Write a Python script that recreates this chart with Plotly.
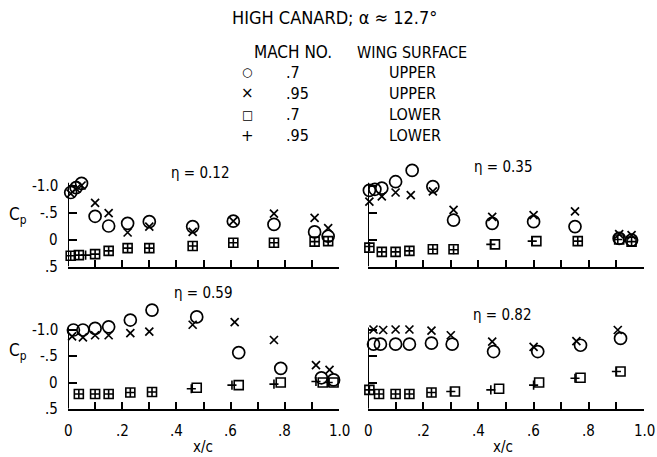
import plotly.graph_objects as go

W, H = 657, 457

# ---------------- data: x/c stations and pressure coefficients ----------------
# symbols: O = M 0.7 upper, X = M 0.95 upper, square = M 0.7 lower, + = M 0.95 lower

# eta = 0.12
e12_up70_x = [0.01, 0.03, 0.05, 0.10, 0.15, 0.22, 0.30, 0.46, 0.61, 0.76, 0.91, 0.96]
e12_up70_cp = [-0.87, -0.96, -1.04, -0.43, -0.25, -0.30, -0.33, -0.24, -0.34, -0.28, -0.14, -0.06]
e12_up95_x = [0.01, 0.03, 0.05, 0.10, 0.15, 0.22, 0.30, 0.46, 0.61, 0.76, 0.91, 0.96]
e12_up95_cp = [-0.85, -0.94, -1.00, -0.68, -0.49, -0.13, -0.24, -0.14, -0.34, -0.48, -0.40, -0.21]
e12_lo70_x = [0.01, 0.04, 0.10, 0.15, 0.22, 0.30, 0.46, 0.61, 0.76, 0.91, 0.96]
e12_lo70_cp = [0.30, 0.29, 0.27, 0.21, 0.16, 0.16, 0.12, 0.06, 0.06, 0.04, 0.03]
e12_lo95_x = [0.01, 0.04, 0.065, 0.10, 0.15, 0.22, 0.30, 0.46, 0.61, 0.76, 0.91, 0.96]
e12_lo95_cp = [0.30, 0.29, 0.29, 0.27, 0.21, 0.16, 0.16, 0.12, 0.06, 0.06, 0.04, 0.03]

# eta = 0.35
e35_up70_x = [0.005, 0.025, 0.05, 0.10, 0.16, 0.235, 0.31, 0.45, 0.60, 0.75, 0.91, 0.955]
e35_up70_cp = [-0.91, -0.93, -0.95, -1.07, -1.28, -0.98, -0.36, -0.30, -0.33, -0.24, -0.02, 0.01]
e35_up95_x = [0.005, 0.05, 0.10, 0.155, 0.235, 0.31, 0.45, 0.60, 0.75, 0.91, 0.955]
e35_up95_cp = [-0.70, -0.80, -0.87, -0.82, -0.89, -0.55, -0.42, -0.45, -0.52, -0.10, -0.08]
e35_lo70_x = [0.005, 0.05, 0.10, 0.15, 0.235, 0.31, 0.46, 0.61, 0.76, 0.91, 0.955]
e35_lo70_cp = [0.15, 0.23, 0.23, 0.21, 0.18, 0.18, 0.09, 0.03, 0.03, 0.00, 0.04]
e35_lo95_x = [0.005, 0.05, 0.10, 0.15, 0.235, 0.31, 0.445, 0.595, 0.76, 0.905, 0.955]
e35_lo95_cp = [0.13, 0.23, 0.23, 0.21, 0.18, 0.19, 0.09, 0.03, 0.03, 0.00, 0.04]

# eta = 0.59
e59_up70_x = [0.02, 0.055, 0.10, 0.15, 0.23, 0.31, 0.475, 0.63, 0.785, 0.935, 0.98]
e59_up70_cp = [-1.00, -1.00, -1.03, -1.06, -1.19, -1.38, -1.25, -0.57, -0.27, -0.09, -0.05]
e59_up95_x = [0.015, 0.055, 0.10, 0.15, 0.23, 0.30, 0.46, 0.615, 0.76, 0.915, 0.965]
e59_up95_cp = [-0.88, -0.86, -0.90, -0.90, -0.94, -0.97, -1.10, -1.15, -0.81, -0.33, -0.24]
e59_lo70_x = [0.04, 0.10, 0.15, 0.23, 0.31, 0.475, 0.63, 0.785, 0.94, 0.98]
e59_lo70_cp = [0.22, 0.22, 0.22, 0.19, 0.18, 0.10, 0.05, 0.00, 0.00, 0.00]
e59_lo95_x = [0.04, 0.10, 0.15, 0.23, 0.31, 0.455, 0.605, 0.76, 0.915, 0.96]
e59_lo95_cp = [0.22, 0.22, 0.22, 0.19, 0.18, 0.12, 0.05, 0.03, -0.02, 0.00]

# eta = 0.82
e82_up70_x = [0.02, 0.045, 0.10, 0.15, 0.23, 0.305, 0.455, 0.615, 0.77, 0.915]
e82_up70_cp = [-0.73, -0.73, -0.73, -0.73, -0.75, -0.73, -0.59, -0.59, -0.71, -0.84]
e82_up95_x = [0.02, 0.055, 0.10, 0.15, 0.23, 0.30, 0.45, 0.60, 0.755, 0.905]
e82_up95_cp = [-1.01, -1.00, -1.01, -1.01, -0.99, -0.90, -0.78, -0.68, -0.79, -1.00]
e82_lo70_x = [0.005, 0.04, 0.10, 0.15, 0.23, 0.315, 0.475, 0.62, 0.77, 0.915]
e82_lo70_cp = [0.14, 0.22, 0.22, 0.22, 0.19, 0.17, 0.12, 0.00, -0.09, -0.21]
e82_lo95_x = [0.005, 0.04, 0.10, 0.15, 0.23, 0.30, 0.445, 0.60, 0.75, 0.90]
e82_lo95_cp = [0.14, 0.22, 0.22, 0.22, 0.19, 0.17, 0.14, 0.05, -0.08, -0.21]

eta_titles = ["η = 0.12", "η = 0.35", "η = 0.59", "η = 0.82"]

x_tick_vals = [0.0, 0.1, 0.2, 0.3, 0.4, 0.5, 0.6, 0.7, 0.8, 0.9, 1.0]
x_label_vals = [0.0, 0.2, 0.4, 0.6, 0.8, 1.0]
x_label_text = ["0", ".2", ".4", ".6", ".8", "1.0"]
y_tick_vals = [-1.0, -0.5, 0.0, 0.5]
y_tick_text = ["-1.0", "-.5", "0", ".5"]
X_MIN, X_MAX = 0.0, 1.0
CP_BASE, CP_AXIS_TOP, CP_VIEW_TOP = 0.5, -1.05, -1.5

legend_rows = [("○", ".7", "UPPER"), ("×", ".95", "UPPER"),
               ("□", ".7", "LOWER"), ("+", ".95", "LOWER")]

# ---------------- styling ----------------
FONT = "DejaVu Sans Condensed, Liberation Sans Narrow, Liberation Sans, sans-serif"
INK = "black"

styles = {
    "up70": dict(symbol="circle-open", size=12, color=INK, line=dict(width=1.7, color=INK)),
    "up95": dict(symbol="x-thin-open", size=8, color=INK, line=dict(width=1.7, color=INK)),
    "lo70": dict(symbol="square-open", size=9, color=INK, line=dict(width=1.6, color=INK)),
    "lo95": dict(symbol="cross-thin-open", size=6.5, color=INK, line=dict(width=1.6, color=INK)),
}

panels = [
    dict(series={"up70": (e12_up70_x, e12_up70_cp), "up95": (e12_up95_x, e12_up95_cp),
                 "lo70": (e12_lo70_x, e12_lo70_cp), "lo95": (e12_lo95_x, e12_lo95_cp)},
         px=(68, 339), py=(266.5, 158.5), xlab=False, ylab=True, title_xy=(200, 173)),
    dict(series={"up70": (e35_up70_x, e35_up70_cp), "up95": (e35_up95_x, e35_up95_cp),
                 "lo70": (e35_lo70_x, e35_lo70_cp), "lo95": (e35_lo95_x, e35_lo95_cp)},
         px=(368, 644), py=(266.5, 158.5), xlab=False, ylab=False, title_xy=(503, 167)),
    dict(series={"up70": (e59_up70_x, e59_up70_cp), "up95": (e59_up95_x, e59_up95_cp),
                 "lo70": (e59_lo70_x, e59_lo70_cp), "lo95": (e59_lo95_x, e59_lo95_cp)},
         px=(68, 339), py=(408.75, 303.75), xlab=True, ylab=True, title_xy=(203, 293)),
    dict(series={"up70": (e82_up70_x, e82_up70_cp), "up95": (e82_up95_x, e82_up95_cp),
                 "lo70": (e82_lo70_x, e82_lo70_cp), "lo95": (e82_lo95_x, e82_lo95_cp)},
         px=(368, 644), py=(408.75, 303.75), xlab=True, ylab=False, title_xy=(502, 315)),
]

fig = go.Figure()
layout = dict(width=W, height=H, margin=dict(l=0, r=0, t=0, b=0), autosize=False,
              paper_bgcolor="white", plot_bgcolor="white", showlegend=False,
              font=dict(family=FONT, color=INK, size=14))
shapes, annotations = [], []


def pxx(v):
    return v / W


def pxy(v):
    return 1 - v / H


def note(text, x, y, size, xanchor="center", family=FONT):
    annotations.append(dict(text=text, xref="paper", yref="paper", x=pxx(x), y=pxy(y),
                            xanchor=xanchor, yanchor="middle", showarrow=False,
                            font=dict(size=size, family=family, color=INK)))


for i, p in enumerate(panels, start=1):
    xa = "xaxis" if i == 1 else f"xaxis{i}"
    ya = "yaxis" if i == 1 else f"yaxis{i}"
    xr = "x" if i == 1 else f"x{i}"
    yr = "y" if i == 1 else f"y{i}"
    layout[xa] = dict(domain=[pxx(p["px"][0]), pxx(p["px"][1])], range=[X_MIN, X_MAX],
                      anchor=yr, tickmode="array", tickvals=x_tick_vals,
                      ticks="inside", ticklen=7, tickwidth=1.5, tickcolor=INK,
                      showline=True, linewidth=2, linecolor=INK, showgrid=False,
                      zeroline=False, showticklabels=False)
    layout[ya] = dict(domain=[pxy(p["py"][0]), pxy(p["py"][1])], range=[CP_BASE, CP_VIEW_TOP],
                      anchor=xr, tickmode="array", tickvals=y_tick_vals,
                      ticks="inside", ticklen=9, tickwidth=1.5, tickcolor=INK,
                      showline=False, showgrid=False, zeroline=False, showticklabels=False)
    # vertical axis line stops just above Cp = -1.0
    shapes.append(dict(type="line", xref=xr, yref=yr, x0=X_MIN, x1=X_MIN,
                       y0=CP_BASE, y1=CP_AXIS_TOP, line=dict(color=INK, width=2), layer="above"))

    # tick labels, positioned with the same linear mapping the axes use
    ppu_x = (p["px"][1] - p["px"][0]) / (X_MAX - X_MIN)
    ppu_y = (p["py"][0] - p["py"][1]) / (CP_BASE - CP_VIEW_TOP)
    if p["xlab"]:
        for v, t in zip(x_label_vals, x_label_text):
            note(t, p["px"][0] + (v - X_MIN) * ppu_x, p["py"][0] + 22, 15)
    if p["ylab"]:
        for v, t in zip(y_tick_vals, y_tick_text):
            note(t, p["px"][0] - 8, p["py"][0] - (CP_BASE - v) * ppu_y, 15, xanchor="right")

    for key in ["lo70", "lo95", "up70", "up95"]:
        xs, cps = p["series"][key]
        fig.add_trace(go.Scatter(x=xs, y=cps, mode="markers", xaxis=xr, yaxis=yr,
                                 marker=styles[key], cliponaxis=False, hoverinfo="skip"))
    note(eta_titles[i - 1], p["title_xy"][0], p["title_xy"][1], 15)

# Cp axis titles
for yy in (215, 351):
    note("C<sub>p</sub>", 18, yy, 17)
# x/c titles
for xx in (203, 503):
    note("x/c", xx, 447, 15)

# figure heading
note("HIGH CANARD; α ≈ 12.7°", 334, 18, 18)

# symbol key
note("MACH NO.", 252, 52, 17, xanchor="left")
note("WING SURFACE", 355, 52, 16, xanchor="left")
row_y = [72, 93, 115, 136]
glyph_size = {"○": 12, "×": 15, "□": 12, "+": 15}
for (sym, mach, surf), yy in zip(legend_rows, row_y):
    note(sym, 247, yy, glyph_size[sym], family="DejaVu Sans")
    note(mach, 284, yy, 16, xanchor="left")
    note(surf, 387, yy, 16, xanchor="left")

layout["shapes"] = shapes
layout["annotations"] = annotations
fig.update_layout(**layout)
fig.write_html("out.html")
